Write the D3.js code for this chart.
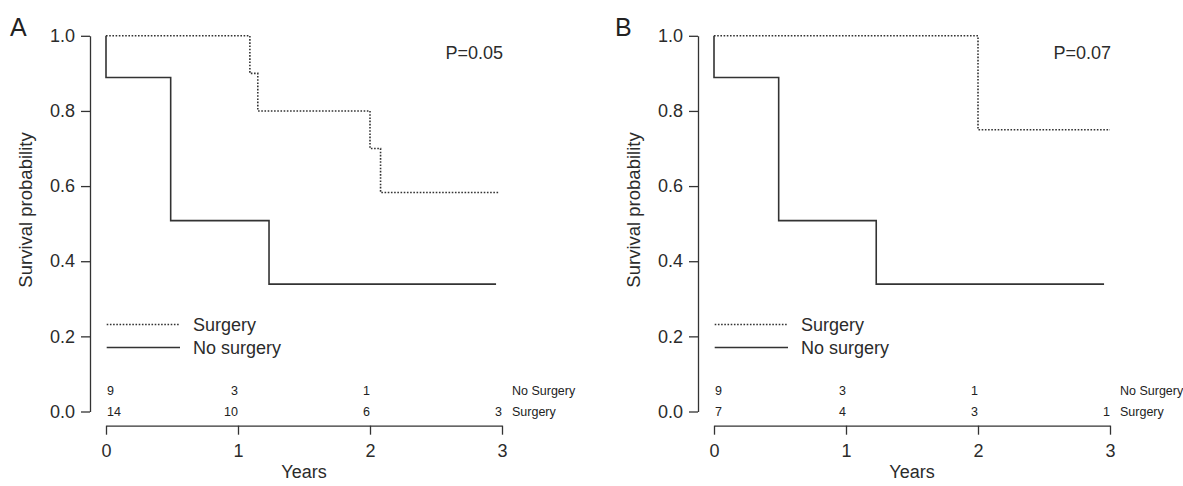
<!DOCTYPE html>
<html>
<head>
<meta charset="utf-8">
<script src="https://cdn.jsdelivr.net/npm/d3@7"></script>
<style>
  html, body { margin: 0; padding: 0; background: #fff; }
  svg { display: block; font-family: "Liberation Sans", Arial, Helvetica, sans-serif; }
  .axis path, .axis line { stroke: #333; stroke-width: 1.3; }
  .axis text { fill: #2b2b2b; font-size: 18px; }
</style>
</head>
<body>
<div id="chart"></div>
<script>
// ---- data ----
const years = [0, 1, 2, 3];
const yTicks = [0, 0.2, 0.4, 0.6, 0.8, 1.0];
const groups = ['Surgery', 'No surgery'];
const riskRows = ['No Surgery', 'Surgery'];

// panel A
const aSurgeryTimes = [0, 1.09, 1.15, 2.0, 2.08, 2.98];
const aSurgerySurv  = [1.0, 0.9, 0.8, 0.7, 0.583, 0.583];
const aNoSurgeryTimes = [0, 0, 0.49, 1.235, 2.955];
const aNoSurgerySurv  = [1.0, 0.889, 0.508, 0.339, 0.339];
const aRiskNoSurgery = [9, 3, 1, null];
const aRiskSurgery = [14, 10, 6, 3];
const aPValue = 'P=0.05';

// panel B
const bSurgeryTimes = [0, 2.0, 3.0];
const bSurgerySurv  = [1.0, 0.75, 0.75];
const bNoSurgeryTimes = [0, 0, 0.49, 1.229, 2.955];
const bNoSurgerySurv  = [1.0, 0.889, 0.508, 0.339, 0.339];
const bRiskNoSurgery = [9, 3, 1, null];
const bRiskSurgery = [7, 4, 3, 1];
const bPValue = 'P=0.07';

const W = 1183, H = 486;
const ink = '#333';

const svg = d3.select('#chart').append('svg')
    .attr('width', W)
    .attr('height', H);

const zip = (t, s) => t.map((d, i) => ({ t: d, s: s[i] }));

function drawPanel(cfg) {
    const x = d3.scaleLinear().domain([0, 3]).range([cfg.x0, cfg.x0 + 3 * 132]);
    const y = d3.scaleLinear().domain([0, 1]).range([411.5, 35.8]);
    const axisX = cfg.x0 - 16;
    const g = svg.append('g');

    // panel letter
    g.append('text')
        .attr('x', cfg.letterX)
        .attr('y', 36)
        .attr('font-size', 25)
        .attr('fill', '#222')
        .text(cfg.letter);

    // y axis
    g.append('g')
        .attr('class', 'axis')
        .attr('transform', `translate(${axisX},0)`)
        .call(d3.axisLeft(y).tickValues(yTicks).tickFormat(d3.format('.1f'))
            .tickSize(9).tickSizeOuter(0).tickPadding(6));

    // x axis
    g.append('g')
        .attr('class', 'axis')
        .attr('transform', 'translate(0,425.7)')
        .call(d3.axisBottom(x).tickValues(years).tickFormat(d3.format('d'))
            .tickSize(9).tickSizeOuter(0).tickPadding(10));

    g.selectAll('.axis .domain').attr('fill', 'none');

    // axis titles
    g.append('text')
        .attr('x', (x(0) + x(3)) / 2)
        .attr('y', 478)
        .attr('text-anchor', 'middle')
        .attr('font-size', 18)
        .attr('fill', '#2b2b2b')
        .text('Years');

    g.append('text')
        .attr('transform', `translate(${axisX - 58},210) rotate(-90)`)
        .attr('text-anchor', 'middle')
        .attr('font-size', 18.5)
        .attr('fill', '#2b2b2b')
        .text('Survival probability');

    // survival curves
    const line = d3.line()
        .x(d => x(d.t))
        .y(d => y(d.s))
        .curve(d3.curveStepAfter);

    g.append('path')
        .datum(zip(cfg.surgeryTimes, cfg.surgerySurv))
        .attr('d', line)
        .attr('fill', 'none')
        .attr('stroke', ink)
        .attr('stroke-width', 1.6)
        .attr('stroke-dasharray', '1.6,1.6');

    g.append('path')
        .datum(zip(cfg.noSurgeryTimes, cfg.noSurgerySurv))
        .attr('d', line)
        .attr('fill', 'none')
        .attr('stroke', ink)
        .attr('stroke-width', 1.6);

    // p value
    g.append('text')
        .attr('x', x(3) + 1)
        .attr('y', 59)
        .attr('text-anchor', 'end')
        .attr('font-size', 18)
        .attr('fill', '#2b2b2b')
        .text(cfg.pValue);

    // legend
    const legend = g.append('g');
    groups.forEach((name, i) => {
        const ly = 324.5 + i * 23;
        legend.append('line')
            .attr('x1', cfg.x0 + 0.7).attr('x2', cfg.x0 + 74)
            .attr('y1', ly).attr('y2', ly)
            .attr('stroke', ink)
            .attr('stroke-width', 1.6)
            .attr('stroke-dasharray', i === 0 ? '1.6,1.6' : null);
        legend.append('text')
            .attr('x', cfg.x0 + 87)
            .attr('y', ly + 6.5)
            .attr('font-size', 18)
            .attr('fill', '#2b2b2b')
            .text(name);
    });

    // numbers at risk
    const rows = [cfg.riskNoSurgery, cfg.riskSurgery];
    rows.forEach((vals, r) => {
        const ry = 394.5 + r * 21.7;
        vals.forEach((v, i) => {
            if (v === null) return;
            g.append('text')
                .attr('x', i === 0 ? x(years[i]) + 1 : x(years[i]))
                .attr('y', ry)
                .attr('text-anchor', i === 0 ? 'start' : 'end')
                .attr('font-size', 12.5)
                .attr('fill', '#222')
                .text(v);
        });
        g.append('text')
            .attr('x', x(3) + 10)
            .attr('y', ry)
            .attr('font-size', 12.5)
            .attr('fill', '#222')
            .text(riskRows[r]);
    });
}

drawPanel({
    letter: 'A', letterX: 10, x0: 106,
    surgeryTimes: aSurgeryTimes, surgerySurv: aSurgerySurv,
    noSurgeryTimes: aNoSurgeryTimes, noSurgerySurv: aNoSurgerySurv,
    riskNoSurgery: aRiskNoSurgery, riskSurgery: aRiskSurgery,
    pValue: aPValue
});

drawPanel({
    letter: 'B', letterX: 615, x0: 714,
    surgeryTimes: bSurgeryTimes, surgerySurv: bSurgerySurv,
    noSurgeryTimes: bNoSurgeryTimes, noSurgerySurv: bNoSurgerySurv,
    riskNoSurgery: bRiskNoSurgery, riskSurgery: bRiskSurgery,
    pValue: bPValue
});
</script>
</body>
</html>
